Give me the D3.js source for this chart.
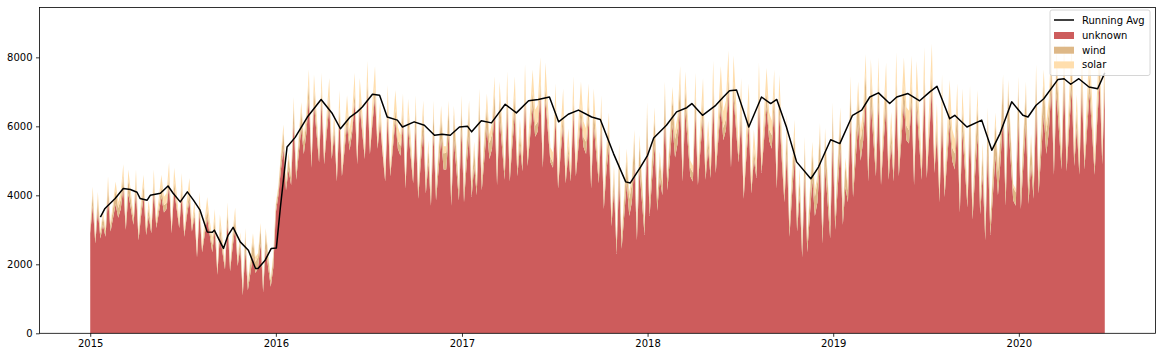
<!DOCTYPE html>
<html>
<head>
<meta charset="utf-8">
<script src="https://cdn.jsdelivr.net/npm/d3@7"></script>
<style>
  body { margin: 0; background: #fff; }
  svg { display: block; font-family: "DejaVu Sans", sans-serif; }
</style>
</head>
<body>
<div id="chart"></div>
<script>
// one sample every 5 days from 2015-01-01
const startDate = "2015-01-01";
const stepDays = 5;

const unknown = [
  // 2015
  2900,3700,2600,3550,2750,3150, 2800,3900,2950,3350,3750,3350, 3600,4200,3000,4050,3600,3150,
  4100,2700,3400,3950,2850,3400, 2900,4100,3050,3500,3950,3500, 3600,4300,2900,4150,3600,3050,
  4000,2800,3400,3850,2950,3400, 2200,3500,2350,2850,3350,2850, 2350,3000,1700,2850,2350,1850,
  3200,1800,2500,3050,1950,2500, 1100,2400,1250,1750,2250,1750, 1900,2600,1200,2450,1900,1350,1900,
  // 2016
  3500,4000,4750,5350,4150,4750, 4300,6100,4450,5200,5950,5200, 5800,6800,4800,6650,5800,4950,
  6700,4900,5800,6550,5050,5800, 4400,6200,4550,5300,6050,5300, 5800,6700,4900,6550,5800,5050,
  7000,5200,6100,6850,5350,6100,5200, 4400,6300,4550,5350,6150,5350, 5150,6100,4200,5950,5150,4350,
  6000,3900,4950,5850,4050,4950, 3700,5800,3850,4750,5650,4750, 4750,5800,3700,5650,4750,3850,
  // 2017
  5900,3800,4850,5750,3950,4850, 4000,6100,4150,5050,5950,5050, 5350,6400,4300,6250,5350,4450,
  6500,4400,5450,6350,4550,5450, 4700,6700,4850,5700,6550,5700, 5850,6900,4800,6750,5850,4950,4800,
  6200,4200,5200,6050,4350,5200, 4400,6400,4550,5400,6250,5400, 5200,6200,4200,6050,5200,4350,
  5900,3600,4700,5400,3100,4200, 2300,4500,2450,3400,4350,3400, 3800,4900,2700,4750,3800,2850,
  // 2018
  5600,3400,4500,5450,3550,4500, 4000,6200,4150,5100,6050,5100, 5500,6600,4400,6450,5500,4550,4400,
  6400,4300,5350,6250,4450,5350, 4500,6700,4650,5600,6550,5600, 5900,7000,4800,6850,5900,4950,
  6200,3900,5050,6050,4050,5050, 4500,6700,4650,5600,6550,5600, 5350,6500,4200,6350,5000,3800,
  5200,2800,4000,5050,2950,4000, 2200,4600,2350,3400,4450,3400, 3800,5000,2600,4850,3800,2750,
  // 2019
  5500,3000,4250,5350,3150,4250, 3800,6200,3950,5000,6050,5000, 5600,6800,4400,6650,5600,4550,
  6700,4300,5500,6550,4450,5500, 4400,6800,4550,5600,6650,5600, 5500,6700,4300,6550,5500,4450,
  7000,4500,5750,7100,4650,5750, 3800,6200,3950,5000,6050,5000, 4750,6000,3500,5850,4750,3650,
  5900,3300,4600,5750,3450,4600, 2700,5300,2850,4000,5150,4000, 5000,6300,3700,6150,5000,3850,3700,
  // 2020
  6200,3600,4900,6050,3750,4900, 3900,6500,4050,5200,6350,5200, 5850,7100,4600,6950,5850,4750,
  7200,4700,5950,7050,4850,5950, 4600,7100,4750,5850,6950,5850,4600, 6100,7300,4900,7150
];

const wind = [
  // 2015
  140,350,140,350,140,250, 160,400,160,280,400,280, 280,400,160,400,280,160,
  350,140,250,350,140,250, 120,300,120,210,300,210, 180,250,100,250,180,100,
  250,100,180,250,100,180, 100,250,100,180,250,180, 210,300,120,300,210,120,
  350,140,250,350,140,250, 180,450,180,320,450,320, 320,450,180,450,320,180,320,
  // 2016
  200,200,350,500,200,350, 200,500,200,350,500,350, 320,450,180,450,320,180,
  400,160,280,400,160,280, 140,350,140,250,350,250, 210,300,120,300,210,120,
  300,120,210,300,120,210,120, 140,350,140,250,350,250, 280,400,160,400,280,160,
  550,220,390,550,220,390, 260,650,260,460,650,460, 490,700,280,700,490,280,
  // 2017
  700,280,490,700,280,490, 260,650,260,460,650,460, 420,600,240,600,420,240,
  550,220,390,550,220,390, 180,450,180,320,450,320, 280,400,160,400,280,160,160,
  400,160,280,400,160,280, 160,400,160,280,400,280, 350,500,200,500,350,200,
  600,240,420,600,240,420, 280,700,280,490,700,490, 530,750,300,750,530,300,
  // 2018
  800,320,560,800,320,560, 300,750,300,530,750,530, 460,650,260,650,460,260,260,
  550,220,390,550,220,390, 200,500,200,350,500,350, 320,450,180,450,320,180,
  450,180,320,450,180,320, 180,450,180,320,450,320, 390,550,220,550,390,220,
  700,280,490,700,280,490, 320,800,320,560,800,560, 600,850,340,850,600,340,
  // 2019
  900,360,630,900,360,630, 340,850,340,600,850,600, 530,750,300,750,530,300,
  650,260,460,650,260,460, 240,600,240,420,600,420, 390,550,220,550,390,220,
  500,200,350,500,200,350, 220,550,220,390,550,390, 460,650,260,650,460,260,
  850,340,600,850,340,600, 380,950,380,670,950,670, 670,950,380,950,670,380,380,
  // 2020
  950,380,670,950,380,670, 360,900,360,630,900,630, 560,800,320,800,560,320,
  700,280,490,700,280,490, 240,600,240,420,600,420,240, 390,550,220,550
];

const solar = [
  // 2015
  80,200,80,200,80,140, 100,250,100,180,250,180, 210,300,120,300,210,120,
  300,120,210,300,120,210, 140,350,140,250,350,250, 280,400,160,400,280,160,
  400,160,280,400,160,280, 140,350,140,250,350,250, 210,300,120,300,210,120,
  250,100,180,250,100,180, 80,200,80,140,200,140, 110,150,60,150,110,60,110,
  // 2016
  80,80,140,200,80,140, 100,250,100,180,250,180, 280,400,160,400,280,160,
  450,180,320,450,180,320, 200,500,200,350,500,350, 390,550,220,550,390,220,
  600,240,420,600,240,420,240, 220,550,220,390,550,390, 320,450,180,450,320,180,
  350,140,250,350,140,250, 120,300,120,210,300,210, 180,250,100,250,180,100,
  // 2017
  300,120,210,300,120,210, 140,350,140,250,350,250, 320,450,180,450,320,180,
  550,220,390,550,220,390, 260,650,260,460,650,460, 490,700,280,700,490,280,280,
  650,260,460,650,260,460, 260,650,260,460,650,460, 390,550,220,550,390,220,
  400,160,280,400,160,280, 120,300,120,210,300,210, 180,250,100,250,180,100,
  // 2018
  300,120,210,300,120,210, 140,350,140,250,350,250, 350,500,200,500,350,200,200,
  600,240,420,600,240,420, 280,700,280,490,700,490, 530,750,300,750,530,300,
  750,300,530,750,300,530, 280,700,280,490,700,490, 420,600,240,600,420,240,
  450,180,320,450,180,320, 120,300,120,210,300,210, 180,250,100,250,180,100,
  // 2019
  300,120,210,300,120,210, 160,400,160,280,400,280, 390,550,220,550,390,220,
  650,260,460,650,260,460, 300,750,300,530,750,530, 560,800,320,800,560,320,
  800,320,560,800,320,560, 300,750,300,530,750,530, 420,600,240,600,420,240,
  450,180,320,450,180,320, 120,300,120,210,300,210, 180,250,100,250,180,100,100,
  // 2020
  300,120,210,300,120,210, 160,400,160,280,400,280, 390,550,220,550,390,220,
  700,280,490,700,280,490, 320,800,320,560,800,560,320, 600,850,340,850
];

// running average line
const avgDates = [
  "2015-01-21","2015-01-30","2015-02-19","2015-03-07","2015-03-21","2015-04-03","2015-04-09","2015-04-23",
  "2015-04-29","2015-05-19","2015-06-03","2015-06-13","2015-06-27","2015-07-11","2015-07-23","2015-08-05",
  "2015-08-19","2015-08-29","2015-09-02","2015-09-20","2015-09-29","2015-10-09","2015-10-23","2015-11-08",
  "2015-11-22","2015-11-27","2015-12-11","2015-12-23","2016-01-02","2016-01-10","2016-01-23","2016-02-08",
  "2016-03-03","2016-03-30","2016-04-21","2016-05-07","2016-05-26","2016-06-09","2016-06-19","2016-07-09",
  "2016-07-23","2016-08-07","2016-08-27","2016-09-06","2016-09-29","2016-10-19","2016-11-08","2016-11-23",
  "2016-12-09","2016-12-27","2017-01-12","2017-01-20","2017-02-08","2017-02-28","2017-03-27","2017-04-18",
  "2017-05-12","2017-05-31","2017-06-22","2017-07-10","2017-07-29","2017-08-18","2017-09-13","2017-09-30",
  "2017-10-26","2017-11-19","2017-11-28","2017-12-18","2018-01-01","2018-01-13","2018-02-07","2018-02-27",
  "2018-03-19","2018-03-29","2018-04-19","2018-05-15","2018-05-30","2018-06-11","2018-06-25","2018-07-19",
  "2018-08-13","2018-08-31","2018-09-12","2018-10-01","2018-10-21","2018-11-18","2018-12-03","2018-12-27",
  "2019-01-14","2019-02-08","2019-02-26","2019-03-14","2019-03-31","2019-04-22","2019-05-06","2019-05-28",
  "2019-06-20","2019-07-10","2019-07-24","2019-08-18","2019-08-28","2019-09-21","2019-10-20","2019-11-09",
  "2019-11-25","2019-12-18","2020-01-09","2020-01-19","2020-02-04","2020-02-19","2020-03-18","2020-03-30",
  "2020-04-12","2020-04-28","2020-05-18","2020-06-04","2020-06-18"
];
const avgValues = [
  3370,3620,3910,4200,4170,4090,3910,3860,
  4000,4060,4270,4060,3810,4100,3860,3570,
  2940,2930,2990,2460,2840,3070,2650,2410,
  1880,1880,2120,2460,2470,3660,5400,5680,
  6270,6780,6370,5930,6270,6420,6560,6930,
  6900,6270,6180,5980,6130,6030,5740,5770,
  5740,5980,6000,5840,6160,6100,6640,6390,
  6740,6780,6850,6130,6350,6470,6270,6200,
  5210,4390,4360,4820,5160,5660,6030,6420,
  6540,6660,6320,6610,6850,7030,7050,5980,
  6850,6660,6780,5980,4970,4480,4820,5610,
  5500,6320,6470,6850,6970,6660,6850,6950,
  6740,7000,7160,6220,6320,5980,6180,5310,
  5790,6710,6320,6270,6610,6800,7360,7380,
  7220,7380,7140,7090,7550
];

const keys = ["unknown", "wind", "solar"];
const colors = ["#cd5c5c", "#deb887", "#ffdead"];
const xTickLabels = ["2015", "2016", "2017", "2018", "2019", "2020"];
const yTicks = [0, 2000, 4000, 6000, 8000];

const width = 1162, height = 357;
const plot = {left: 39.5, right: 1155.5, top: 7.5, bottom: 333.3};

const parse = d3.utcParse("%Y-%m-%d");
const t0 = parse(startDate);
const rows = unknown.map((u, i) => ({
  date: d3.utcDay.offset(t0, i * stepDays),
  unknown: u, wind: wind[i], solar: solar[i]
}));

const svg = d3.select("#chart").append("svg")
  .attr("width", width).attr("height", height);

// matplotlib style 5% margin on x
const ext = d3.extent(rows, d => d.date);
const pad = (ext[1] - ext[0]) * 0.05;
const x = d3.scaleUtc()
  .domain([new Date(+ext[0] - pad), new Date(+ext[1] + pad)])
  .range([plot.left, plot.right]);
const y = d3.scaleLinear().domain([0, 9445]).range([plot.bottom, plot.top]);

const series = d3.stack().keys(keys)(rows);
const area = d3.area()
  .x(d => x(d.data.date))
  .y0(d => y(d[0]))
  .y1(d => y(d[1]));

svg.append("g").selectAll("path")
  .data(series)
  .join("path")
  .attr("fill", (d, i) => colors[i])
  .attr("d", area);

const line = d3.line()
  .x((d, i) => x(parse(avgDates[i])))
  .y(d => y(d));
svg.append("path")
  .datum(avgValues)
  .attr("fill", "none")
  .attr("stroke", "#000")
  .attr("stroke-width", 1.5)
  .attr("stroke-linejoin", "round")
  .attr("d", line);

// axes
const xAxis = d3.axisBottom(x)
  .tickValues(xTickLabels.map(d => d3.utcParse("%Y")(d)))
  .tickFormat(d3.utcFormat("%Y"))
  .tickSize(3.5).tickPadding(3.5);
const yAxis = d3.axisLeft(y)
  .tickValues(yTicks)
  .tickFormat(d3.format("d"))
  .tickSize(3.5).tickPadding(3.5);

svg.append("g").attr("transform", `translate(0,${plot.bottom})`).call(xAxis)
  .call(g => g.select(".domain").remove());
svg.append("g").attr("transform", `translate(${plot.left},0)`).call(yAxis)
  .call(g => g.select(".domain").remove());
svg.selectAll(".tick text").attr("font-size", 10).attr("font-family", "DejaVu Sans").attr("fill", "#000");
svg.selectAll(".tick line").attr("stroke", "#000").attr("stroke-width", 0.8);

svg.append("rect")
  .attr("x", plot.left).attr("y", plot.top)
  .attr("width", plot.right - plot.left).attr("height", plot.bottom - plot.top)
  .attr("fill", "none").attr("stroke", "#000").attr("stroke-width", 0.8);

// legend
const lg = svg.append("g").attr("transform", "translate(1050,10)");
lg.append("rect").attr("width", 100).attr("height", 65.5).attr("rx", 2)
  .attr("fill", "#fff").attr("fill-opacity", 0.8)
  .attr("stroke", "#cccccc").attr("stroke-width", 0.8);
lg.append("line").attr("x1", 4).attr("x2", 24).attr("y1", 10).attr("y2", 10)
  .attr("stroke", "#000").attr("stroke-width", 1.5);
lg.append("text").attr("x", 32).attr("y", 10).attr("dy", "0.35em")
  .attr("font-size", 10).text("Running Avg");
keys.forEach((k, i) => {
  const cy = 25.5 + i * 14.7;
  lg.append("rect").attr("x", 4).attr("y", cy - 3.5).attr("width", 20).attr("height", 7)
    .attr("fill", colors[i]);
  lg.append("text").attr("x", 32).attr("y", cy).attr("dy", "0.35em")
    .attr("font-size", 10).text(k);
});
</script>
</body>
</html>
